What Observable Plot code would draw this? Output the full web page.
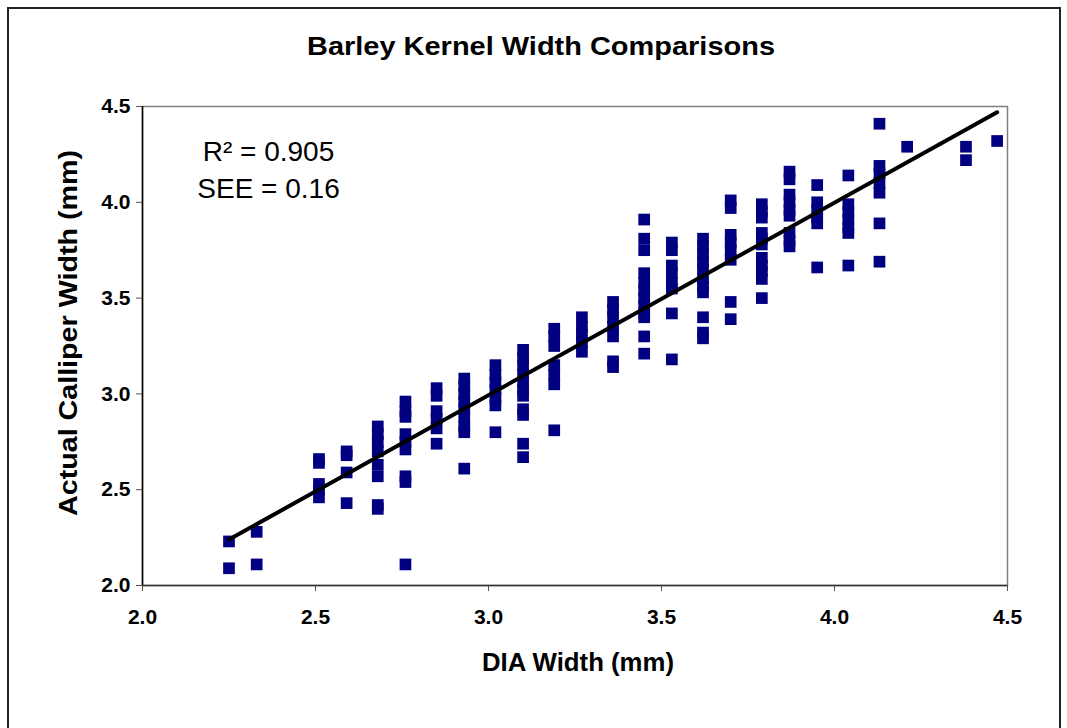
<!DOCTYPE html>
<html><head><meta charset="utf-8">
<script src="https://cdn.jsdelivr.net/npm/d3@7"></script>
<script src="https://cdn.jsdelivr.net/npm/@observablehq/plot@0.6"></script>
<style>
body{margin:0;background:#fff;}
#wrap{position:relative;width:1067px;height:728px;overflow:hidden;}
#border{position:absolute;left:7px;top:7px;width:1054px;height:760px;border:2px solid #222;box-sizing:border-box;pointer-events:none;}
</style></head><body><div id="wrap"><div id="border"></div></div>
<script>
// DIA width columns (mm)
const dia = [2.25, 2.33, 2.51, 2.59, 2.68, 2.76, 2.85, 2.93, 3.02, 3.10, 3.19, 3.27, 3.36,
             3.45, 3.53, 3.62, 3.70, 3.79, 3.87, 3.95, 4.04, 4.13, 4.21, 4.38, 4.47];
// Actual calliper widths (mm) observed at each DIA width
const calliper = [
  [2.23, 2.09],
  [2.28, 2.11],
  [2.66, 2.64, 2.53, 2.50, 2.46],
  [2.70, 2.68, 2.59, 2.43],
  [2.83, 2.79, 2.75, 2.70, 2.63, 2.57, 2.42, 2.40],
  [2.96, 2.91, 2.88, 2.79, 2.75, 2.71, 2.57, 2.54, 2.11],
  [3.03, 2.99, 2.91, 2.87, 2.82, 2.74],
  [3.08, 3.04, 3.00, 2.96, 2.92, 2.88, 2.83, 2.80, 2.61],
  [3.15, 3.10, 3.06, 3.02, 2.98, 2.94, 2.80],
  [3.23, 3.19, 3.15, 3.10, 3.06, 3.02, 2.99, 2.92, 2.89, 2.74, 2.67],
  [3.34, 3.30, 3.25, 3.15, 3.10, 3.05, 2.81],
  [3.40, 3.35, 3.31, 3.27, 3.22],
  [3.48, 3.44, 3.40, 3.35, 3.30, 3.17, 3.14],
  [3.91, 3.81, 3.75, 3.63, 3.58, 3.54, 3.50, 3.46, 3.42, 3.40, 3.30, 3.21],
  [3.79, 3.75, 3.67, 3.63, 3.58, 3.55, 3.42, 3.18],
  [3.81, 3.77, 3.73, 3.69, 3.65, 3.60, 3.56, 3.53, 3.40, 3.32, 3.29],
  [4.01, 3.97, 3.83, 3.79, 3.75, 3.70, 3.48, 3.39],
  [3.99, 3.95, 3.92, 3.84, 3.81, 3.78, 3.71, 3.67, 3.64, 3.60, 3.50],
  [4.16, 4.12, 4.04, 4.00, 3.96, 3.93, 3.84, 3.80, 3.77],
  [4.09, 4.00, 3.96, 3.92, 3.89, 3.66],
  [4.14, 3.99, 3.95, 3.91, 3.87, 3.84, 3.67],
  [4.41, 4.19, 4.15, 4.10, 4.05, 3.89, 3.69],
  [4.29],
  [4.29, 4.22],
  [4.32]
];
// regression line end points
const fitX = [2.25, 4.47];
const fitY = [2.24, 4.47];
const xTicks = [2.0, 2.5, 3.0, 3.5, 4.0, 4.5];
const yTicks = [2.0, 2.5, 3.0, 3.5, 4.0, 4.5];
const stats = ["R² = 0.905", "SEE = 0.16"];
const title = "Barley Kernel Width Comparisons";
const xLabel = "DIA Width (mm)";
const yLabel = "Actual Calliper Width (mm)";

const points = dia.flatMap((x, i) => calliper[i].map(y => ({x, y})));
const fit = fitX.map((x, i) => ({x, y: fitY[i]}));
const font = "'Liberation Sans', Arial, sans-serif";

const chart = Plot.plot({
  width: 1067, height: 728,
  marginLeft: 142, marginRight: 60, marginTop: 106, marginBottom: 143,
  style: {background: "transparent", fontFamily: font, color: "#000"},
  x: {domain: [2, 4.5]},
  y: {domain: [2, 4.5]},
  marks: [
    Plot.frame({stroke: "#808080", strokeWidth: 1.5}),
    Plot.axisX({ticks: xTicks, tickFormat: d => d.toFixed(1), tickSize: 6, tickPadding: 18,
      fontSize: 21, fontWeight: "bold", label: null, stroke: "#555"}),
    Plot.axisY({ticks: yTicks, tickFormat: d => d.toFixed(1), tickSize: 6, tickPadding: 6,
      fontSize: 21, fontWeight: "bold", label: null, stroke: "#555"}),
    Plot.ruleX([2], {stroke: "#000", strokeWidth: 1.5}),
    Plot.ruleY([2], {stroke: "#333", strokeWidth: 1.5}),
    Plot.dot(points, {x: "x", y: "y", symbol: "square", r: 6.6, fill: "#000080"}),
    Plot.line(fit, {x: "x", y: "y", stroke: "#000", strokeWidth: 4}),
    Plot.text([stats[0]], {frameAnchor: "top-left", textAnchor: "middle", lineAnchor: "middle",
      dx: 126, dy: 46, fontSize: 28, fill: "#000"}),
    Plot.text([stats[1]], {frameAnchor: "top-left", textAnchor: "middle", lineAnchor: "middle",
      dx: 126, dy: 83, fontSize: 28, fill: "#000"}),
    Plot.text([title], {frameAnchor: "top", textAnchor: "middle", lineAnchor: "middle",
      dx: -34, dy: -60, fontSize: 25, fontWeight: "bold", fill: "#000"}),
    Plot.text([xLabel], {frameAnchor: "bottom", textAnchor: "middle", lineAnchor: "middle",
      dx: 3, dy: 77, fontSize: 25, fontWeight: "bold", fill: "#000"}),
    Plot.text([yLabel], {frameAnchor: "left", textAnchor: "middle", lineAnchor: "middle",
      rotate: -90, dx: -74, dy: -13, fontSize: 25, fontWeight: "bold", fill: "#000"})
  ]
});
// stretch the title and axis labels to the reference's text run lengths
const stretch = {[title]: 468, [yLabel]: 366, [xLabel]: 192};
chart.querySelectorAll("text").forEach(t => {
  const L = stretch[t.textContent];
  if (L) { t.setAttribute("textLength", L); t.setAttribute("lengthAdjust", "spacingAndGlyphs"); }
});
document.getElementById("wrap").prepend(chart);
</script>
</body></html>
